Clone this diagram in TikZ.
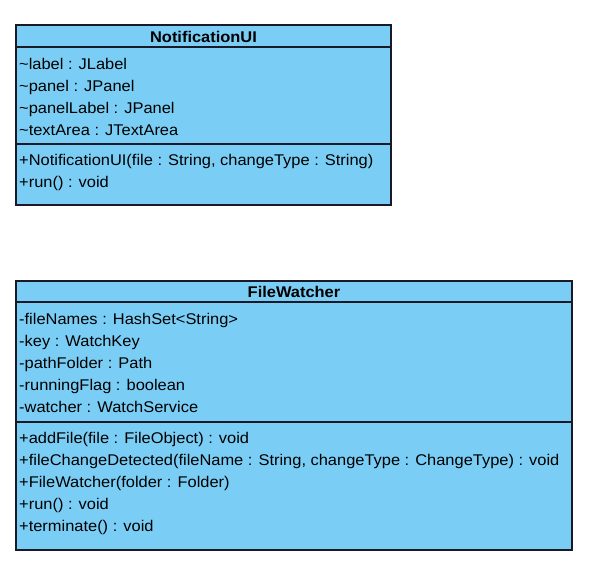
\documentclass[tikz,border=0pt]{standalone}
\usepackage{fontspec}
\setmainfont{Liberation Sans}[FakeStretch=1.06]
\definecolor{classfill}{RGB}{122,206,245}
\definecolor{classline}{RGB}{25,25,40}
\begin{document}
\begin{tikzpicture}[x=1pt,y=-1pt,
  classbox/.style={draw=classline,fill=classfill,line width=1.4pt},
  sepline/.style={draw=classline,line width=1.2pt},
  title/.style={font=\fontsize{15.5}{18}\selectfont\bfseries,inner sep=0pt,anchor=base},
  member/.style={font=\fontsize{15.5}{18}\selectfont,inner sep=0pt,anchor=base west}]
\useasboundingbox (0,0) rectangle (601,573);
% NotificationUI
\draw[classbox] (16,25) rectangle (391,205);
\draw[sepline] (16,47) -- (391,47);
\draw[sepline] (16,144) -- (391,144);
\node[title] (nt) at (203.5,42) {NotificationUI};
\node[member] (n1) at (19,69) {\textasciitilde label : JLabel};
\node[member] (n2) at (19,91) {\textasciitilde panel : JPanel};
\node[member] (n3) at (19,113) {\textasciitilde panelLabel : JPanel};
\node[member] (n4) at (19,135) {\textasciitilde textArea : JTextArea};
\node[member] (n5) at (19,165) {+NotificationUI(file : String, changeType : String)};
\node[member] (n6) at (19,187) {+run() : void};
% FileWatcher
\draw[classbox] (16,281) rectangle (572,550);
\draw[sepline] (16,302) -- (572,302);
\draw[sepline] (16,422) -- (572,422);
\node[title] (ft) at (294,297) {FileWatcher};
\node[member] (f1) at (19,324) {-fileNames : HashSet<String>};
\node[member] (f2) at (19,346) {-key : WatchKey};
\node[member] (f3) at (19,368) {-pathFolder : Path};
\node[member] (f4) at (19,390) {-runningFlag : boolean};
\node[member] (f5) at (19,412) {-watcher : WatchService};
\node[member] (f6) at (19,443) {+addFile(file : FileObject) : void};
\node[member] (f7) at (19,465) {+fileChangeDetected(fileName : String, changeType : ChangeType) : void};
\node[member] (f8) at (19,487) {+FileWatcher(folder : Folder)};
\node[member] (f9) at (19,509) {+run() : void};
\node[member] (f10) at (19,531) {+terminate() : void};
\end{tikzpicture}
\end{document}
